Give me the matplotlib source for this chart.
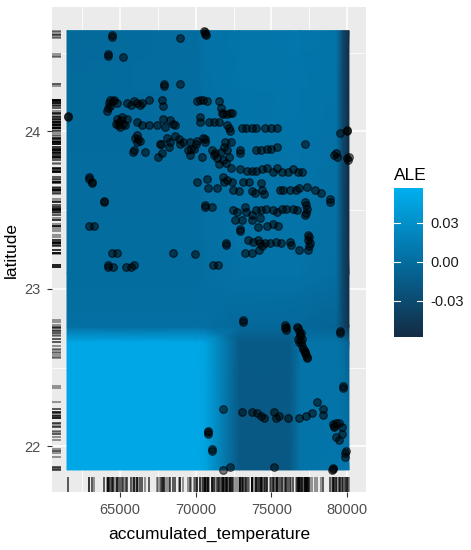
import matplotlib
matplotlib.use("Agg")
import matplotlib.pyplot as plt
import matplotlib.transforms as mtransforms
from matplotlib.colors import LinearSegmentedColormap
import numpy as np

plt.rcParams['font.family'] = ['Liberation Sans', 'DejaVu Sans']

# ALE surface (nodes)
ale_temp = [61490, 70000, 70600, 72900, 76200, 76900, 79300, 79700, 80130]
ale_lat = [21.85, 22.66, 22.76, 23.1, 24.64]
ale_values = [
    [0.050, 0.050, 0.048, -0.018, -0.018, 0.006, 0.008, 0.008, 0.008],
    [0.050, 0.050, 0.048, -0.016, -0.016, 0.005, 0.006, 0.002, -0.010],
    [0.002, 0.002, 0.002, -0.003, -0.004, -0.004, -0.008, -0.030, -0.052],
    [0.000, 0.000, 0.002, 0.005, 0.005, 0.005, 0.002, -0.030, -0.055],
    [-0.002, 0.000, 0.004, 0.007, 0.008, 0.008, 0.006, -0.030, -0.056],
]
ale_range = (-0.058, 0.057)
ale_ticks = [-0.03, 0.00, 0.03]

# observations: (accumulated_temperature, latitude)
obs = [
    (64450, 24.60), (64470, 24.61), (68930, 24.59),
    (70560, 24.64), (70600, 24.62), (70650, 24.61), (70620, 24.63),
    (64190, 24.48), (64200, 24.49), (65180, 24.47),
    (67870, 24.29), (67880, 24.30), (68930, 24.30),
    (64200, 24.15), (64250, 24.18), (64350, 24.20), (64500, 24.19), (64600, 24.20),
    (64800, 24.18), (64150, 24.13), (64300, 24.16),
    (65460, 24.18), (65700, 24.17), (65900, 24.19), (66100, 24.18), (66300, 24.17), (66460, 24.18),
    (66920, 24.20), (67780, 24.20), (67850, 24.16),
    (70100, 24.19), (70300, 24.20), (70500, 24.20), (70760, 24.19), (71530, 24.19),
    (71700, 24.15), (71750, 24.12), (71820, 24.11),
    (72080, 24.11), (72250, 24.12), (72410, 24.12),
    (61540, 24.10), (61560, 24.09),
    (64700, 24.05), (64800, 24.08), (64900, 24.06), (65000, 24.03), (65100, 24.09),
    (65200, 24.05), (65300, 24.04), (65450, 24.08), (64850, 24.04), (65050, 24.07),
    (66130, 24.06), (66460, 24.04), (66920, 24.04), (67450, 24.04),
    (67850, 24.08), (68300, 24.07), (68500, 24.05), (68640, 24.04), (67980, 24.03),
    (70300, 24.09), (70280, 24.06), (70890, 24.06), (71200, 24.06), (71550, 24.06),
    (72080, 24.04), (72180, 24.02), (72280, 24.00),
    (73080, 24.02), (73300, 24.02), (73700, 24.02), (74000, 24.02), (74600, 24.02),
    (75000, 24.02), (75400, 24.02),
    (77250, 23.92), (79520, 23.99), (80000, 24.00), (80020, 24.01),
    (66000, 23.96), (66100, 23.98), (66200, 23.95), (66320, 23.94), (66150, 23.93),
    (67650, 23.92), (68100, 23.96), (68640, 23.97), (69170, 23.93), (68900, 23.95),
    (69630, 23.93), (70100, 23.94), (70500, 23.96), (70630, 23.95),
    (71950, 23.93), (72340, 23.93),
    (65880, 23.87), (65900, 23.88), (66650, 23.87),
    (67500, 23.84), (67750, 23.86), (68200, 23.90), (67700, 23.92), (68300, 23.93),
    (68970, 23.92), (69500, 23.88), (69600, 23.85), (69700, 23.89), (70000, 23.92),
    (69900, 23.89), (70600, 23.93), (70400, 23.84),
    (71090, 23.88), (71300, 23.86), (71400, 23.83), (71550, 23.79), (71700, 23.87),
    (71900, 23.90), (72100, 23.88), (72200, 23.84), (72000, 23.80), (72300, 23.77),
    (72900, 23.88), (72950, 23.86), (71200, 23.85), (71800, 23.82),
    (74000, 23.88), (74300, 23.88), (74700, 23.89), (75000, 23.89), (75400, 23.90),
    (79170, 23.85), (79370, 23.84), (79250, 23.86),
    (80030, 23.83), (80160, 23.84), (80100, 23.82),
    (62950, 23.71), (62960, 23.70), (63150, 23.67), (63160, 23.68),
    (63940, 23.55), (63950, 23.56),
    (70080, 23.68), (70760, 23.70), (71420, 23.64), (70800, 23.64),
    (71820, 23.71), (71900, 23.68), (72100, 23.69), (72400, 23.68), (72450, 23.63),
    (72850, 23.62), (73150, 23.68), (73500, 23.68), (73700, 23.62), (73900, 23.61),
    (74300, 23.67), (74400, 23.63), (74500, 23.60),
    (72940, 23.76), (73400, 23.75), (73700, 23.75), (74000, 23.75), (74350, 23.76),
    (74700, 23.77), (75100, 23.74), (75400, 23.77), (75700, 23.74), (76100, 23.74),
    (76400, 23.76), (76750, 23.74), (77050, 23.74),
    (75590, 23.63), (75800, 23.63), (76200, 23.63), (76600, 23.63), (76800, 23.64),
    (77350, 23.65), (77900, 23.63), (78300, 23.61), (78900, 23.57), (78900, 23.55),
    (70630, 23.52), (70640, 23.53), (71090, 23.52),
    (72480, 23.50), (72700, 23.49), (73270, 23.52), (73350, 23.49), (73700, 23.47),
    (74000, 23.50), (74300, 23.50), (74650, 23.51), (75100, 23.50), (75400, 23.49),
    (75700, 23.51), (76000, 23.51), (76400, 23.51), (76700, 23.50),
    (77250, 23.55), (77350, 23.51), (77200, 23.47), (77260, 23.53), (77300, 23.48),
    (72610, 23.44), (73050, 23.44), (73700, 23.44), (74270, 23.45),
    (62950, 23.40), (63280, 23.40),
    (72940, 23.38), (72950, 23.37),
    (74130, 23.39), (74700, 23.40), (75100, 23.41), (75460, 23.40),
    (73470, 23.31), (73800, 23.30), (74150, 23.31), (74250, 23.29), (74600, 23.29),
    (74900, 23.29), (75300, 23.30), (75650, 23.29), (76200, 23.30), (76300, 23.28),
    (76800, 23.25), (77450, 23.34), (77450, 23.31), (77550, 23.29), (77450, 23.25),
    (77460, 23.33), (77500, 23.27),
    (72020, 23.28), (72030, 23.29),
    (73270, 23.23), (73700, 23.23), (74200, 23.25), (74400, 23.27),
    (64470, 23.23), (64800, 23.23), (68510, 23.23), (69970, 23.22),
    (64200, 23.14), (64210, 23.15), (64550, 23.14), (65400, 23.14), (65700, 23.14), (65900, 23.15),
    (71150, 23.15), (71480, 23.15),
    (73100, 22.79), (73110, 22.80),
    (75920, 22.77), (75930, 22.75), (75950, 22.74), (75940, 22.76),
    (76720, 22.76), (76800, 22.73), (76900, 22.70), (76750, 22.68), (76850, 22.66),
    (77000, 22.64), (77100, 22.62), (77200, 22.60), (77300, 22.58), (77380, 22.56),
    (76950, 22.72), (77050, 22.68), (76780, 22.75), (76880, 22.71), (77150, 22.61),
    (77250, 22.59), (77350, 22.57), (76950, 22.66),
    (79560, 22.73), (79570, 22.72), (79760, 22.37), (79770, 22.38),
    (78040, 22.28), (78410, 22.24), (78440, 22.20),
    (79100, 22.14), (79150, 22.12), (79300, 22.15), (79500, 22.15), (79650, 22.12),
    (79700, 22.08), (79500, 22.04), (79300, 22.06), (79120, 22.13),
    (79900, 21.96), (79850, 21.93), (79910, 21.97),
    (79030, 21.85), (79100, 21.86), (79060, 21.855),
    (71800, 22.24),
    (70830, 22.10), (70830, 22.08), (70840, 22.09),
    (71090, 21.97), (71100, 21.98),
    (71820, 21.85), (72280, 21.87),
    (73080, 22.22), (73750, 22.22), (74050, 22.21), (74300, 22.19), (74500, 22.18),
    (75200, 22.22), (75300, 22.18), (75500, 22.19), (76100, 22.18), (76800, 22.18),
    (77300, 22.19), (77700, 22.21),
    (75200, 21.87),
]
obs_temp = [p[0] for p in obs]
obs_lat = [p[1] for p in obs]

x_ticks = [65000, 70000, 75000, 80000]
y_ticks = [22, 23, 24]

ale_cmap = LinearSegmentedColormap.from_list('ale', ['#132B43', '#046C9F', '#00AFEF'])

fig = plt.figure(figsize=(4.71, 5.5), dpi=100)
ax = fig.add_axes([52 / 471, 1 - 492 / 550, 314 / 471, 485 / 550])
ax.set_facecolor('#EBEBEB')
ax.set_xlim(60497, 81258)
ax.set_ylim(21.71, 24.79)

# grid lines
for v in x_ticks:
    ax.axvline(v, color='white', lw=1.1, zorder=0)
for v in [62500, 67500, 72500, 77500]:
    ax.axvline(v, color='white', lw=0.55, zorder=0)
for v in y_ticks:
    ax.axhline(v, color='white', lw=1.1, zorder=0)
for v in [22.5, 23.5, 24.5]:
    ax.axhline(v, color='white', lw=0.55, zorder=0)

X, Y = np.meshgrid(ale_temp, ale_lat)
mesh = ax.pcolormesh(X, Y, np.array(ale_values), cmap=ale_cmap, shading='gouraud',
                     vmin=ale_range[0], vmax=ale_range[1], zorder=1)

ax.scatter(obs_temp, obs_lat, s=30, facecolor=(0, 0, 0, 0.5),
           edgecolor=(0, 0, 0, 0.65), linewidth=0.8, zorder=3)

# rugs
tx = mtransforms.blended_transform_factory(ax.transData, ax.transAxes)
ty = mtransforms.blended_transform_factory(ax.transAxes, ax.transData)
for t in obs_temp:
    ax.plot([t, t], [0, 0.03], transform=tx, color='black', alpha=0.45, lw=1.2,
            solid_capstyle='butt', zorder=2)
for la in obs_lat:
    ax.plot([0, 0.03], [la, la], transform=ty, color='black', alpha=0.45, lw=1.2,
            solid_capstyle='butt', zorder=2)

for s in ax.spines.values():
    s.set_visible(False)
ax.set_xticks(x_ticks)
ax.set_yticks(y_ticks)
ax.set_yticklabels([str(v) for v in y_ticks])
ax.tick_params(length=3.5, width=0.8, color='#333333', labelcolor='#4D4D4D',
               labelsize=10.5, pad=4.5)
ax.set_xlabel('accumulated_temperature', fontsize=12.5, labelpad=7)
ax.set_ylabel('latitude', fontsize=12.5, labelpad=4)

# colour bar
cax = fig.add_axes([394 / 471, 1 - 337 / 550, 29 / 471, 149 / 550])
cb = fig.colorbar(mesh, cax=cax, ticks=ale_ticks)
cb.outline.set_visible(False)
cax.set_yticklabels(['%.2f' % v for v in ale_ticks])
cax.tick_params(length=0, labelsize=10.5, pad=5, labelcolor='#1A1A1A')
for v in ale_ticks:
    cax.axhline(v, 0, 0.2, color='white', lw=0.8)
    cax.axhline(v, 0.8, 1, color='white', lw=0.8)
fig.text(394 / 471, 1 - 180 / 550, 'ALE', fontsize=12.5, ha='left', va='baseline')

fig.savefig('out.png', dpi=100)
